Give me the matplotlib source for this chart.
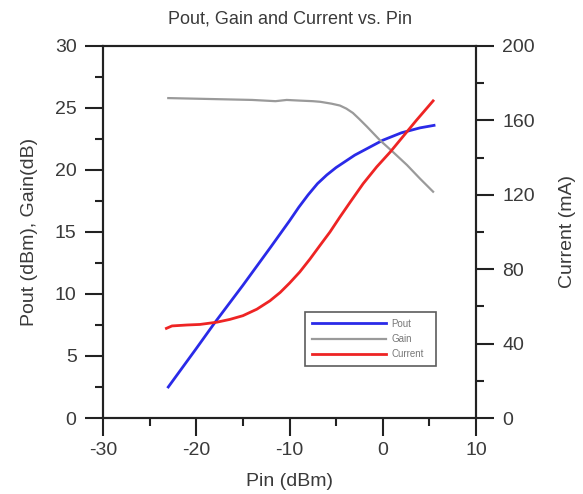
import numpy as np
import matplotlib
matplotlib.use('Agg')
import matplotlib.pyplot as plt
from matplotlib.ticker import MultipleLocator

plt.rcParams['font.family'] = ['Liberation Sans', 'DejaVu Sans']
plt.rcParams['axes.unicode_minus'] = False

# Pout (dBm) vs Pin
pout_pin = [-23, -20, -18, -15, -12, -10, -9, -8, -7, -6, -5, -4, -3, -2, -1, 0, 1, 2, 3, 4, 5.5]
pout = [2.5, 5.6, 7.7, 10.7, 13.8, 15.9, 17.0, 18.0, 18.9, 19.6, 20.2, 20.7, 21.2, 21.6, 22.0,
        22.4, 22.7, 23.0, 23.2, 23.4, 23.6]

# Gain (dB) vs Pin
gain_pin = [-23, -20, -17, -14, -11.5, -10.3, -9, -7.5, -6.7, -5.5, -4.6, -3.9, -3.2, -2.5,
            -1.7, -1, -0.3, 1.1, 2.6, 4, 5.4]
gain = [25.8, 25.75, 25.7, 25.65, 25.55, 25.65, 25.6, 25.55, 25.5, 25.35, 25.2, 24.95, 24.6,
        24.1, 23.5, 22.95, 22.4, 21.45, 20.4, 19.3, 18.25]

# Current (mA) vs Pin
cur_pin = [-23.2, -22.6, -21, -19.6, -17.8, -16.4, -15, -13.5, -12.1, -11, -10, -8.9, -7.8,
           -6.7, -5.66, -4.6, -3.5, -2.1, -0.65, 0.8, 2.2, 3.6, 5.4]
current = [48.2, 49.5, 50, 50.3, 51.5, 53, 55, 58.5, 63, 67.5, 72.5, 78.5, 85.5,
           93, 100, 108, 116, 126, 135, 143, 151.5, 160, 170.5]

txt = '#3a3a3a'
fig = plt.figure(figsize=(5.83, 4.94), dpi=100)
ax = fig.add_axes([103 / 583, 1 - 418 / 494, 373 / 583, 372 / 494])
ax2 = ax.twinx()

l1, = ax.plot(pout_pin, pout, color='#2a2ae8', lw=2.0, label='Pout')
l2, = ax.plot(gain_pin, gain, color='#9a9a9a', lw=1.6, label='Gain')
l3, = ax2.plot(cur_pin, current, color='#ee2424', lw=2.0, label='Current')

ax.set_xlim(-30, 10)
ax.set_ylim(0, 30)
ax2.set_ylim(0, 200)
ax.xaxis.set_major_locator(MultipleLocator(10))
ax.xaxis.set_minor_locator(MultipleLocator(5))
ax.yaxis.set_major_locator(MultipleLocator(5))
ax.yaxis.set_minor_locator(MultipleLocator(2.5))
ax2.yaxis.set_major_locator(MultipleLocator(40))
ax2.yaxis.set_minor_locator(MultipleLocator(20))

for a in (ax, ax2):
    for s in a.spines.values():
        s.set_linewidth(1.5)
        s.set_color('#222222')
    a.tick_params(which='major', direction='out', length=13, width=1.5, color='#222222',
                  labelsize=14, labelcolor=txt, pad=6)
    a.tick_params(which='minor', direction='out', length=6, width=1.5, color='#222222')
ax.tick_params(axis='x', which='major', pad=4)

ax.set_xlabel('Pin (dBm)', fontsize=14, color=txt, labelpad=10)
ax.set_ylabel('Pout (dBm), Gain(dB)', fontsize=14, color=txt, labelpad=12)
ax2.set_ylabel('Current (mA)', fontsize=14, color=txt, labelpad=17)
ax.set_title('Pout, Gain and Current vs. Pin', fontsize=13, color=txt, pad=16)

leg = ax.legend([l1, l2, l3], ['Pout', 'Gain', 'Current'],
                loc='upper left', bbox_to_anchor=(0.5416, 0.285, 0.351, 0.0), mode='expand',
                fontsize=7, handlelength=7.6, frameon=True, fancybox=False,
                edgecolor='#333333', borderpad=0.7, labelspacing=0.55, handletextpad=0.6,
                borderaxespad=0)
leg.get_frame().set_linewidth(1.2)
for t in leg.get_texts():
    t.set_color('#777777')

fig.savefig('out.png', dpi=100)
